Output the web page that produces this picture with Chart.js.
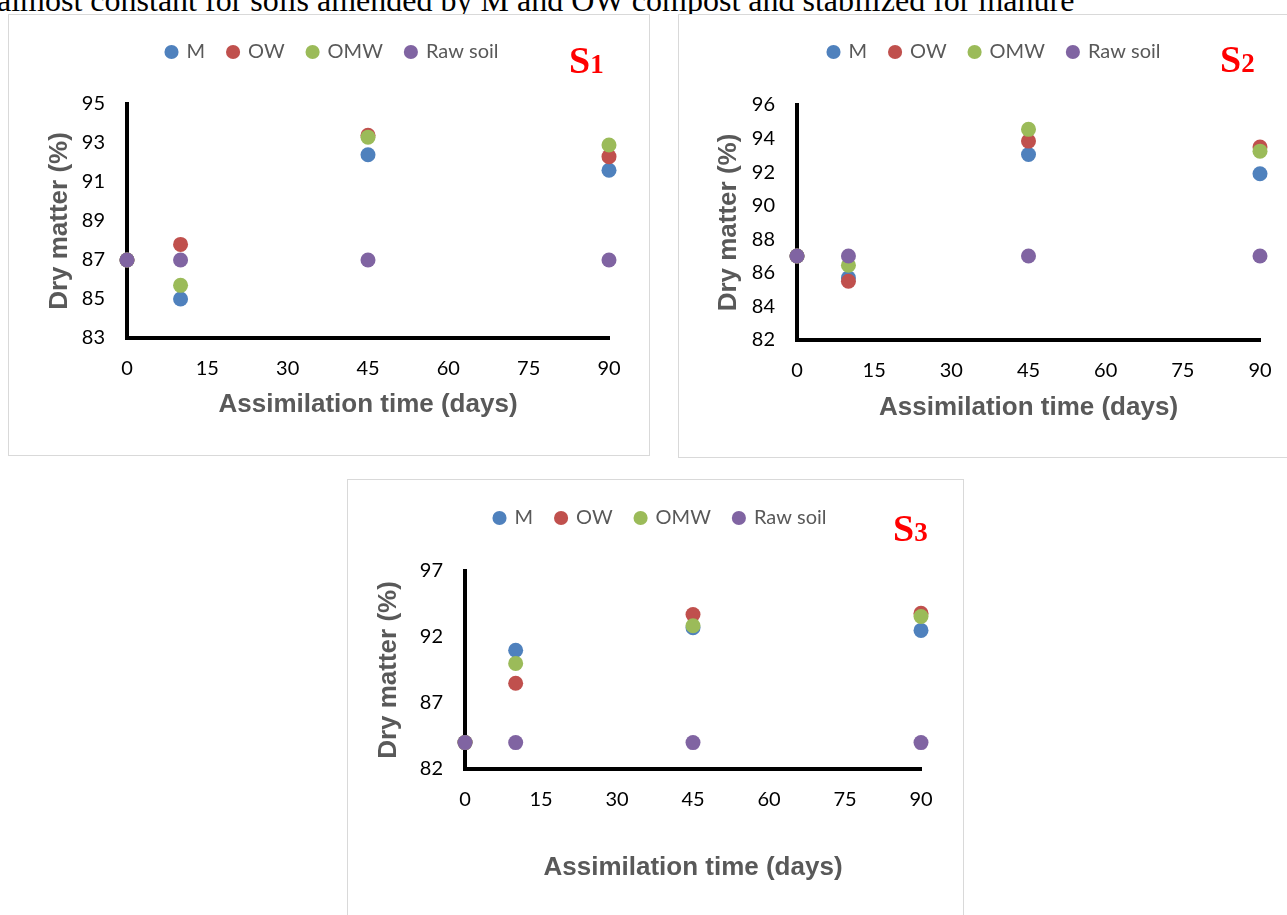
<!DOCTYPE html>
<html>
<head>
<meta charset="utf-8">
<script src="https://cdn.jsdelivr.net/npm/chart.js@4.4.1/dist/chart.umd.min.js"></script>
<style>
    html, body {
        margin: 0;
        padding: 0;
        background: #fff;
        width: 1287px;
        height: 915px;
        overflow: hidden;
        position: relative;
    }
    .lead {
        position: absolute;
        left: -3px;
        top: -16px;
        font: 32px/32px "Liberation Serif", "Times New Roman", serif;
        white-space: nowrap;
        color: #000;
    }
    .panel {
        position: absolute;
        border: 1px solid #d9d9d9;
        background: #fff;
    }
    .panel canvas {
        position: absolute;
        left: 0;
        top: 0;
    }
    .tag {
        position: absolute;
        font: bold 38px/38px "Liberation Serif", "Times New Roman", serif;
        color: #ff0000;
        white-space: nowrap;
    }
    .tag span {
        font-size: 27px;
    }
</style>
</head>
<body>
<div class="lead">almost constant for soils amended by M and OW compost and stabilized for manure</div>

<div class="panel" style="left:8px; top:14px; width:640px; height:440px;">
    <canvas id="chartS1" width="640" height="440"></canvas>
</div>
<div class="panel" style="left:678px; top:14px; width:620px; height:442px;">
    <canvas id="chartS2" width="620" height="442"></canvas>
</div>
<div class="panel" style="left:347px; top:479px; width:615px; height:440px;">
    <canvas id="chartS3" width="615" height="440"></canvas>
</div>

<div class="tag" style="left:569px; top:41px;">S<span>1</span></div>
<div class="tag" style="left:1220px; top:40px;">S<span>2</span></div>
<div class="tag" style="left:893px; top:509px;">S<span>3</span></div>

<script>
// sampling days (x axis)
const days = [0, 10, 45, 90];
const seriesNames = ["M", "OW", "OMW", "Raw soil"];
const seriesColors = ["#4f81bd", "#c0504d", "#9bbb59", "#8064a2"];

// S1 - dry matter (%)
const s1M = [87, 85.0, 92.4, 91.6];
const s1OW = [87, 87.8, 93.4, 92.3];
const s1OMW = [87, 85.7, 93.3, 92.9];
const s1Raw = [87, 87, 87, 87];

// S2 - dry matter (%)
const s2M = [87, 85.7, 93.05, 91.9];
const s2OW = [87, 85.5, 93.85, 93.5];
const s2OMW = [87, 86.45, 94.55, 93.25];
const s2Raw = [87, 87, 87, 87];

// S3 - dry matter (%)
const s3M = [84, 91.0, 92.7, 92.5];
const s3OW = [84, 88.5, 93.7, 93.8];
const s3OMW = [84, 90.0, 92.85, 93.55];
const s3Raw = [84, 84, 84, 84];

// x ticks
const xTicks = [0, 90, 15];   // min, max, step
// y ticks per panel: min, max, step
const s1YTicks = [83, 95, 2];
const s2YTicks = [82, 96, 2];
const s3YTicks = [82, 97, 5];

// adds some room under the legend (excel leaves a gap there)
const legendGap = {
    id: 'legendGap',
    beforeInit(chart, args, opts) {
        if (!chart.legend || chart.legend._gapPatched) return;
        const fit = chart.legend.fit;
        chart.legend.fit = function () {
            fit.call(this);
            this.height += opts.extra || 0;
        };
        chart.legend._gapPatched = true;
    }
};

const tickFont = {family: 'Lato', size: 20};
const titleFont = {family: 'Liberation Sans', size: 26, weight: 'bold'};

function makePanel(canvasId, values, yTicks, geo) {
    const datasets = values.map((vals, i) => ({
        label: seriesNames[i],
        data: days.map((d, j) => ({x: d, y: vals[j]})),
        backgroundColor: seriesColors[i],
        borderColor: seriesColors[i],
        pointBackgroundColor: seriesColors[i],
        borderWidth: 0,
        pointBorderWidth: 0,
        pointRadius: 7.5,
        pointHoverRadius: 7.5,
        showLine: false,
        clip: false,
        order: values.length - 1 - i,
    }));

    return new Chart(document.getElementById(canvasId), {
        type: 'scatter',
        data: {datasets: datasets},
        plugins: [legendGap],
        options: {
            responsive: false,
            animation: false,
            devicePixelRatio: 1,
            layout: {
                padding: {top: geo.padTop, right: 0, bottom: 0, left: geo.padLeft}
            },
            plugins: {
                legendGap: {extra: geo.legendExtra},
                tooltip: {enabled: false},
                legend: {
                    position: 'top',
                    labels: {
                        usePointStyle: true,
                        pointStyle: 'circle',
                        boxWidth: 10,
                        boxHeight: 10,
                        padding: 23,
                        color: '#595959',
                        font: {family: 'Lato', size: 20},
                        sort: (a, b) => a.datasetIndex - b.datasetIndex,
                    }
                },
            },
            scales: {
                x: {
                    type: 'linear',
                    min: xTicks[0],
                    max: xTicks[1],
                    grid: {display: false, drawTicks: false},
                    border: {display: true, color: '#000', width: 4},
                    ticks: {stepSize: xTicks[2], padding: 19, color: '#000', font: tickFont},
                    title: {
                        display: true,
                        text: 'Assimilation time (days)',
                        color: '#595959',
                        font: titleFont,
                        padding: {top: 0, bottom: geo.xTitlePad},
                    },
                    afterFit(scale) {
                        scale.height = geo.xHeight;
                        scale.paddingLeft = 0;
                        scale.paddingRight = geo.rightGap;
                    },
                },
                y: {
                    type: 'linear',
                    min: yTicks[0],
                    max: yTicks[1],
                    grid: {display: false, drawTicks: false},
                    border: {display: true, color: '#000', width: 4},
                    ticks: {stepSize: yTicks[2], padding: 22, color: '#000', font: tickFont},
                    title: {
                        display: true,
                        text: 'Dry matter (%)',
                        color: '#595959',
                        font: titleFont,
                        padding: {top: geo.yTitlePad, bottom: 0},
                    },
                    afterFit(scale) {
                        scale.width = geo.yWidth;
                        scale.paddingTop = 0;
                        scale.paddingBottom = 0;
                    },
                },
            },
        },
    });
}

makePanel('chartS1', [s1M, s1OW, s1OMW, s1Raw], s1YTicks,
    {padTop: 4, padLeft: 7, rightGap: 40, legendExtra: 32, yWidth: 111, xHeight: 117, yTitlePad: 28, xTitlePad: 35});
makePanel('chartS2', [s2M, s2OW, s2OMW, s2Raw], s2YTicks,
    {padTop: 4, padLeft: 11, rightGap: 39, legendExtra: 33, yWidth: 107, xHeight: 117, yTitlePad: 23, xTitlePad: 34});
makePanel('chartS3', [s3M, s3OW, s3OMW, s3Raw], s3YTicks,
    {padTop: 5, padLeft: 10, rightGap: 42, legendExtra: 33, yWidth: 107, xHeight: 151, yTitlePad: 15, xTitlePad: 37});
</script>
</body>
</html>
